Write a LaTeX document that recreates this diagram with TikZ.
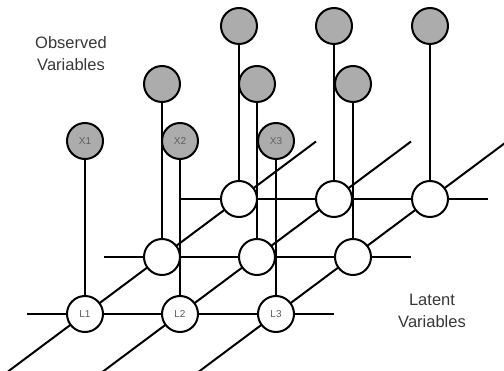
\documentclass[tikz,border=0pt]{standalone}
\usepackage{fontspec}
\setmainfont{Liberation Sans}
\usetikzlibrary{backgrounds,calc}
\definecolor{obsgray}{RGB}{172,172,172}
\definecolor{labgray}{RGB}{95,95,95}
\definecolor{txtgray}{RGB}{55,55,55}
\tikzset{
  conn/.style={line width=2pt, black},
  latent/.style={circle, draw=black, line width=2pt, fill=white, minimum size=36pt, inner sep=0pt, font=\fontsize{10}{10}\selectfont, text=labgray},
  observed/.style={circle, draw=black, line width=2pt, fill=obsgray, minimum size=36pt, inner sep=0pt, font=\fontsize{10}{10}\selectfont, text=labgray},
  caption/.style={align=center, font=\fontsize{16.5}{22}\selectfont, text=txtgray}
}
\begin{document}
\begin{tikzpicture}[x=1pt,y=-1pt]
\useasboundingbox (0,0) rectangle (504,371);
\clip (0,0) rectangle (504,371);
% latent and observed nodes
\foreach \r/\dx/\yy in {1/0/314,2/77/257,3/154/199}{
  \foreach \c/\cx in {1/0,2/95,3/191}{
    \pgfmathsetmacro\xx{85+\cx+\dx}
    \pgfmathsetmacro\yo{\yy-173}
    \ifnum\r=1
      \node[latent] (L\r\c) at (\xx,\yy) {L\c};
      \node[observed] (O\r\c) at (\xx,\yo) {X\c};
    \else
      \node[latent] (L\r\c) at (\xx,\yy) {};
      \node[observed] (O\r\c) at (\xx,\yo) {};
    \fi
  }
}
% end coordinates of row and column lines
\foreach \r in {1,2,3}{
  \coordinate (RL\r) at ($(L\r1.center)+(-58,0)$);
  \coordinate (RR\r) at ($(L\r3.center)+(58,0)$);
}
\foreach \c in {1,2,3}{
  \coordinate (CL\c) at ($(L1\c.center)+(-77,57.5)$);
  \coordinate (CR\c) at ($(L3\c.center)+(77,-57.5)$);
}
\begin{pgfonlayer}{background}
  \foreach \r in {1,2,3}{
    \draw[conn] (RL\r) -- (RR\r);
  }
  \foreach \c in {1,2,3}{
    \draw[conn] (CL\c) -- (CR\c);
  }
  \foreach \r in {1,2,3}{
    \foreach \c in {1,2,3}{
      \draw[conn] (O\r\c.center) -- (L\r\c.center);
    }
  }
\end{pgfonlayer}
\node[caption] (obs) at (71,54) {Observed\\Variables};
\node[caption] (lat) at (432,311) {Latent\\Variables};
\end{tikzpicture}
\end{document}
